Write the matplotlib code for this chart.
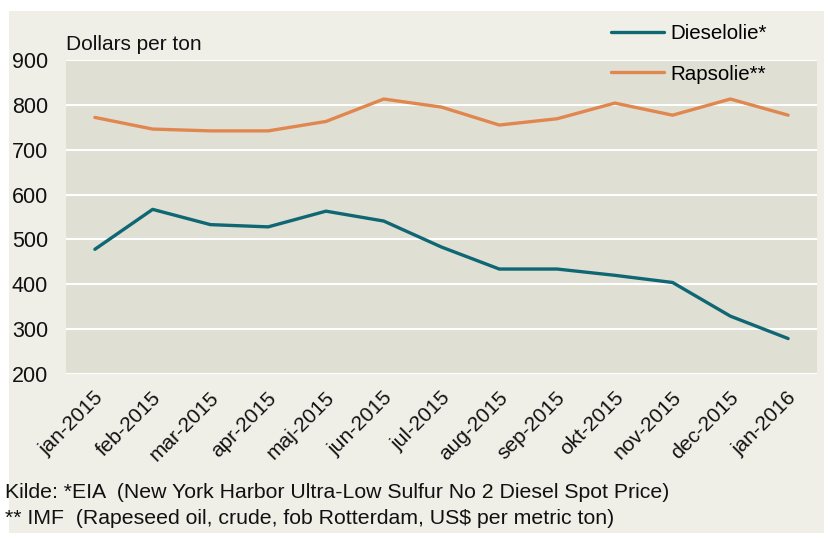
import matplotlib
matplotlib.use('Agg')
import matplotlib.pyplot as plt
from matplotlib.patches import Rectangle
from matplotlib.transforms import ScaledTranslation

# data
maaneder = ['jan-2015', 'feb-2015', 'mar-2015', 'apr-2015', 'maj-2015', 'jun-2015',
            'jul-2015', 'aug-2015', 'sep-2015', 'okt-2015', 'nov-2015', 'dec-2015', 'jan-2016']
dieselolie = [478, 567, 533, 528, 563, 541, 483, 434, 434, 420, 404, 329, 279]
rapsolie = [772, 746, 742, 742, 763, 813, 795, 755, 769, 804, 777, 813, 777]

plt.rcParams['font.family'] = ['Liberation Sans', 'DejaVu Sans']

fig = plt.figure(figsize=(8.25, 5.33), dpi=100, facecolor='white')
# lys baggrund for hele figuren
fig.patches.append(Rectangle((9/825, 0), 815/825, 522/533, transform=fig.transFigure,
                             facecolor='#EFEFE8', edgecolor='none', zorder=-10))

ax = fig.add_axes([66/825, 1 - 374/533, 751/825, 314/533])
ax.set_facecolor('#E0DFD4')

x = list(range(len(maaneder)))
ax.plot(x, dieselolie, color='#0E6773', linewidth=2.4, label='Dieselolie*', solid_capstyle='round')
ax.plot(x, rapsolie, color='#E0874F', linewidth=2.4, label='Rapsolie**', solid_capstyle='round')

ax.set_xlim(-0.5, len(maaneder) - 0.5)
ax.set_ylim(200, 900)
ax.set_yticks(range(200, 901, 100))
ax.yaxis.grid(True, color='white', linewidth=1.5)
ax.set_axisbelow(True)
for s in ax.spines.values():
    s.set_visible(False)

ax.tick_params(axis='both', length=0, colors='#111111')
ax.tick_params(axis='y', labelsize=15.5, pad=13)
ax.set_xticks(x)
ax.set_xticklabels(maaneder, rotation=45, ha='right', va='center', rotation_mode='anchor', fontsize=15)
ax.tick_params(axis='x', pad=15)
for lbl in ax.get_xticklabels():
    lbl.set_transform(lbl.get_transform() + ScaledTranslation(4/72, 0, fig.dpi_scale_trans))

fig.text(66/825, 1 - 44/533, 'Dollars per ton', fontsize=15, va='center', ha='left', color='#111111')

fig.legend(loc='upper left', bbox_to_anchor=(611/825, 1 - 24/533), frameon=False,
           fontsize=14.8, handlelength=2.6, handletextpad=0.3, labelspacing=1.05,
           borderpad=0, borderaxespad=0)

fig.text(5/825, 1 - 492/533, 'Kilde: *EIA  (New York Harbor Ultra-Low Sulfur No 2 Diesel Spot Price)',
         fontsize=15.3, va='center', ha='left', color='#111111')
fig.text(5/825, 1 - 518/533, '** IMF  (Rapeseed oil, crude, fob Rotterdam, US$ per metric ton)',
         fontsize=15.3, va='center', ha='left', color='#111111')

plt.savefig('out.png', dpi=100, facecolor=fig.get_facecolor())
